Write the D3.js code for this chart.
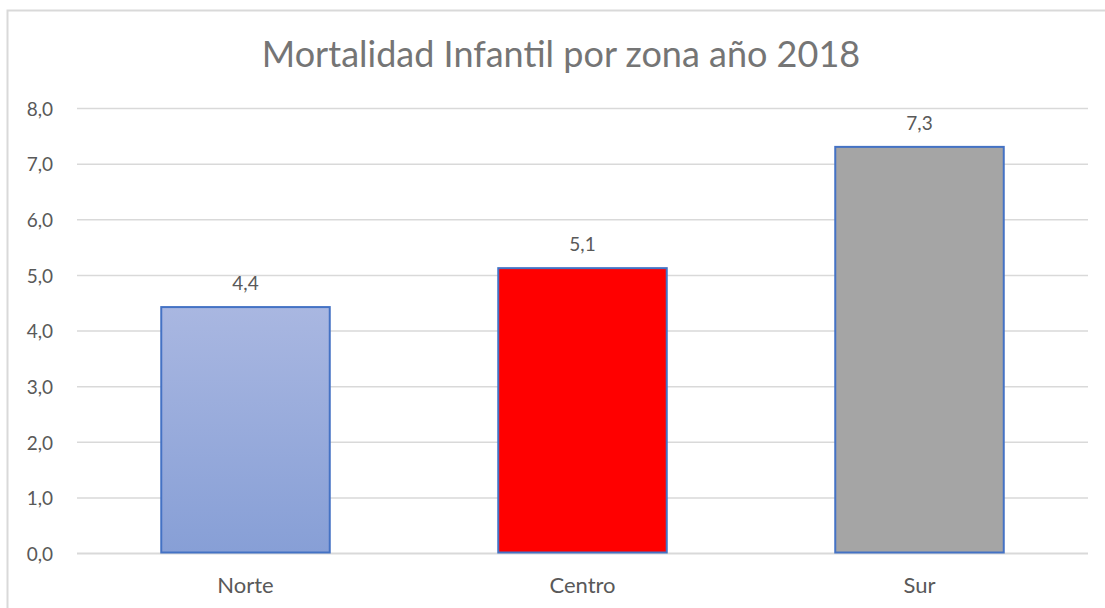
<!DOCTYPE html>
<html>
<head>
<meta charset="utf-8">
<script src="https://cdn.jsdelivr.net/npm/d3@7"></script>
<style>
  html, body { margin: 0; padding: 0; background: #fff; }
  svg { display: block; }
</style>
</head>
<body>
<svg id="chart" width="1105" height="608"></svg>
<script>
const categories = ["Norte", "Centro", "Sur"];
const values = [4.43, 5.13, 7.31];
const labels = ["4,4", "5,1", "7,3"];
const fills = ["url(#gradNorte)", "#ff0000", "#a5a5a5"];
const yTicks = [0, 1, 2, 3, 4, 5, 6, 7, 8];
const title = "Mortalidad Infantil por zona año 2018";

const svg = d3.select("#chart");
const W = 1105, H = 608;
const font = "Lato, 'Open Sans', sans-serif";

const defs = svg.append("defs");
const g = defs.append("linearGradient").attr("id", "gradNorte")
  .attr("x1", 0).attr("y1", 0).attr("x2", 0).attr("y2", 1);
g.append("stop").attr("offset", "0%").attr("stop-color", "#a9b7e1");
g.append("stop").attr("offset", "100%").attr("stop-color", "#879fd6");

// frame
svg.append("path")
  .attr("d", `M7.5,${H} L7.5,10.5 L${W},10.5`)
  .attr("fill", "none").attr("stroke", "#d9d9d9").attr("stroke-width", 2);

const x0 = 77, x1 = 1088, yTop = 108.5, yBot = 553.5;
const x = d3.scaleBand().domain(categories).range([x0, x1]).paddingInner(0.5).paddingOuter(0.25);
const y = d3.scaleLinear().domain([0, 8]).range([yBot, yTop]);

// gridlines
svg.append("g").selectAll("line").data(yTicks).join("line")
  .attr("x1", x0).attr("x2", x1)
  .attr("y1", d => y(d)).attr("y2", d => y(d))
  .attr("stroke", "#d9d9d9").attr("stroke-width", d => d === 0 ? 2 : 1.5);

// y axis labels
const yAxis = d3.axisLeft(y).tickValues(yTicks).tickSize(0).tickPadding(0)
  .tickFormat(d => d3.format(".1f")(d).replace(".", ","));
const ya = svg.append("g").attr("transform", `translate(53,0)`).call(yAxis);
ya.select(".domain").remove();
ya.selectAll("text").attr("font-family", font).attr("font-size", 19)
  .attr("fill", "#595959").attr("dy", "0.36em");

// bars
svg.append("g").selectAll("rect").data(categories).join("rect")
  .attr("x", d => x(d))
  .attr("y", (d, i) => y(values[i]))
  .attr("width", x.bandwidth())
  .attr("height", (d, i) => y(0) - y(values[i]) - 1)
  .attr("fill", (d, i) => fills[i])
  .attr("stroke", "#4472c4").attr("stroke-width", 2);

// data labels
svg.append("g").selectAll("text").data(categories).join("text")
  .attr("x", d => x(d) + x.bandwidth() / 2)
  .attr("y", (d, i) => y(values[i]) - 17)
  .attr("text-anchor", "middle")
  .attr("font-family", font).attr("font-size", 19).attr("fill", "#595959")
  .text((d, i) => labels[i]);

// x axis
const xAxis = d3.axisBottom(x).tickSize(0).tickPadding(0);
const xa = svg.append("g").attr("transform", `translate(0,${yBot})`).call(xAxis);
xa.select(".domain").remove();
xa.selectAll("text").attr("font-family", font).attr("font-size", 22)
  .attr("fill", "#595959").attr("y", 39.5).attr("dy", 0);

// title
svg.append("text").attr("x", 561).attr("y", 67)
  .attr("text-anchor", "middle")
  .attr("font-family", font).attr("font-size", 36).attr("fill", "#757575")
  .text(title);
</script>
</body>
</html>
